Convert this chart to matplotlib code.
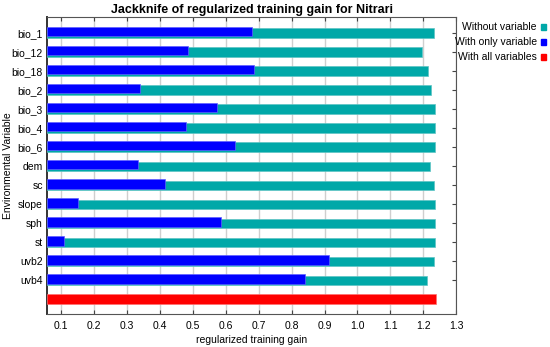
import matplotlib
matplotlib.use("Agg")
import matplotlib.pyplot as plt
import numpy as np

plt.rcParams['font.family'] = ['Liberation Sans', 'DejaVu Sans']

# Jackknife results
variables = ['bio_1', 'bio_12', 'bio_18', 'bio_2', 'bio_3', 'bio_4', 'bio_6',
             'dem', 'sc', 'slope', 'sph', 'st', 'uvb2', 'uvb4']
without_var = [1.233, 1.197, 1.214, 1.223, 1.235, 1.235, 1.235,
               1.221, 1.233, 1.235, 1.235, 1.235, 1.233, 1.211]
only_var = [0.679, 0.484, 0.686, 0.339, 0.573, 0.479, 0.628,
            0.332, 0.416, 0.151, 0.585, 0.110, 0.915, 0.840]
all_vars = 1.240
xticks = [0.1, 0.2, 0.3, 0.4, 0.5, 0.6, 0.7, 0.8, 0.9, 1.0, 1.1, 1.2, 1.3]

teal = '#00a8a8'
blue = '#0000ff'
red = '#ff0000'
xmin = 0.057

fig = plt.figure(figsize=(5.5, 3.47), dpi=100)
ax = fig.add_axes([0.0855, 0.095, 0.744, 0.855])

ypos = np.arange(len(variables))
ax.barh(ypos, np.array(without_var) - xmin, left=xmin, height=0.48,
        color=teal, edgecolor='#5fc4c4', linewidth=0.5, zorder=3)
ax.barh(ypos - 0.07, np.array(only_var) - xmin, left=xmin, height=0.5,
        color=blue, edgecolor='#6060ff', linewidth=0.5, zorder=4)
ax.barh(len(variables), all_vars - xmin, left=xmin, height=0.5,
        color=red, edgecolor='#ff7070', linewidth=0.5, zorder=3)

ax.set_xlim(xmin, 1.3)
ax.set_ylim(len(variables) + 0.78, -0.82)
ax.set_xticks(xticks)
ax.set_xticklabels(['%.1f' % t for t in xticks], fontsize=7.5)
ax.set_yticks(ypos)
ax.set_yticklabels(variables, fontsize=7.5)
ax.grid(axis='x', color='#cfcfcf', linewidth=1, zorder=0)
ax.tick_params(axis='x', direction='in', top=True, length=3, pad=5,
               color='#444444')
ax.tick_params(axis='y', direction='in', left=False, right=True, length=3,
               pad=3, color='#444444')
for side in ['left', 'right', 'top', 'bottom']:
    ax.spines[side].set_color('#555555')
ax.spines['left'].set_linewidth(1.4)
ax.spines['left'].set_color('#333333')

ax.set_title('Jackknife of regularized training gain for Nitrari',
             fontsize=9, fontweight='bold', pad=3)
ax.set_xlabel('regularized training gain', fontsize=7.5)
ax.set_ylabel('Environmental Variable', fontsize=7.5)
ax.xaxis.set_label_coords(0.5, -0.071)
ax.yaxis.set_label_coords(-0.084, 0.5)

# legend drawn as text next to coloured squares
leg_labels = ['Without variable', 'With only variable', 'With all variables']
leg_colors = [teal, blue, red]
for i in range(3):
    y = 1 - (27 + 15 * i) / 347
    fig.text(537 / 550, y, leg_labels[i], fontsize=7.5, ha='right',
             va='center')
    fig.patches.append(plt.Rectangle((541 / 550, y - 2.5 / 347), 5 / 550,
                                     5 / 347, transform=fig.transFigure,
                                     color=leg_colors[i], figure=fig))

fig.savefig('out.png', dpi=100)
